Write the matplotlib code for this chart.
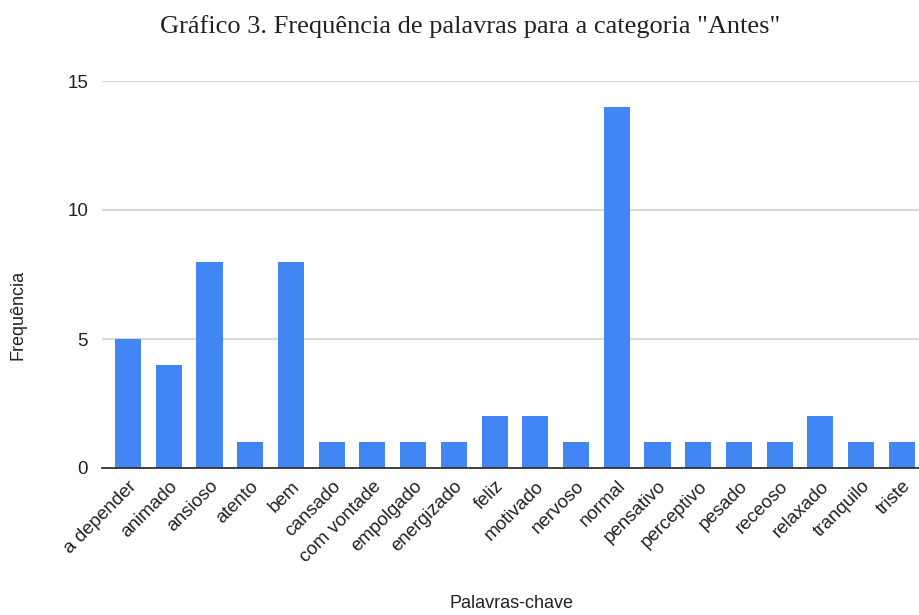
import matplotlib
matplotlib.use("Agg")
from matplotlib import pyplot as plt

# Data
palavras = ["a depender", "animado", "ansioso", "atento", "bem", "cansado",
            "com vontade", "empolgado", "energizado", "feliz", "motivado",
            "nervoso", "normal", "pensativo", "perceptivo", "pesado",
            "receoso", "relaxado", "tranquilo", "triste"]
frequencia = [5, 4, 8, 1, 8, 1, 1, 1, 1, 2, 2, 1, 14, 1, 1, 1, 1, 2, 1, 1]

plt.rcParams["font.family"] = ["Liberation Sans", "DejaVu Sans"]

fig = plt.figure(figsize=(9.19, 6.15), dpi=100)
ax = fig.add_axes([102 / 919, 1 - 468 / 615, 817 / 919, (468 - 81) / 615])

pos = list(range(len(palavras)))
ax.bar(pos, frequencia, width=0.64, color="#4285F4", zorder=3)

ax.set_ylim(0, 15)
ax.set_yticks([0, 5, 10, 15])
ax.set_xlim(-0.64, 19.42)
ax.set_xticks(pos)
ax.set_xticklabels(palavras, rotation=45, ha="right", rotation_mode="anchor")
ax.tick_params(axis="both", length=0, labelsize=13.5, colors="#222222")
ax.tick_params(axis="y", pad=10)
ax.tick_params(axis="x", pad=7)

ax.grid(axis="y", color="#d9d9d9", linewidth=1.5, zorder=0)
for s in ["top", "right", "left"]:
    ax.spines[s].set_visible(False)
ax.spines["bottom"].set_color("#333333")
ax.spines["bottom"].set_linewidth(1.3)
ax.spines["bottom"].set_zorder(4)

fig.text(470 / 919, 1 - 27 / 615, 'Gráfico 3. Frequência de palavras para a categoria "Antes"',
         ha="center", va="center", fontsize=19, family="Liberation Serif",
         color="#222222")
fig.text(18 / 919, 1 - 315 / 615, "Frequência", rotation=90, ha="center",
         va="center", fontsize=13, color="#222222")
fig.text(511 / 919, 1 - 603 / 615, "Palavras-chave", ha="center", va="center",
         fontsize=13, color="#222222")

fig.savefig("out.png", dpi=100)
